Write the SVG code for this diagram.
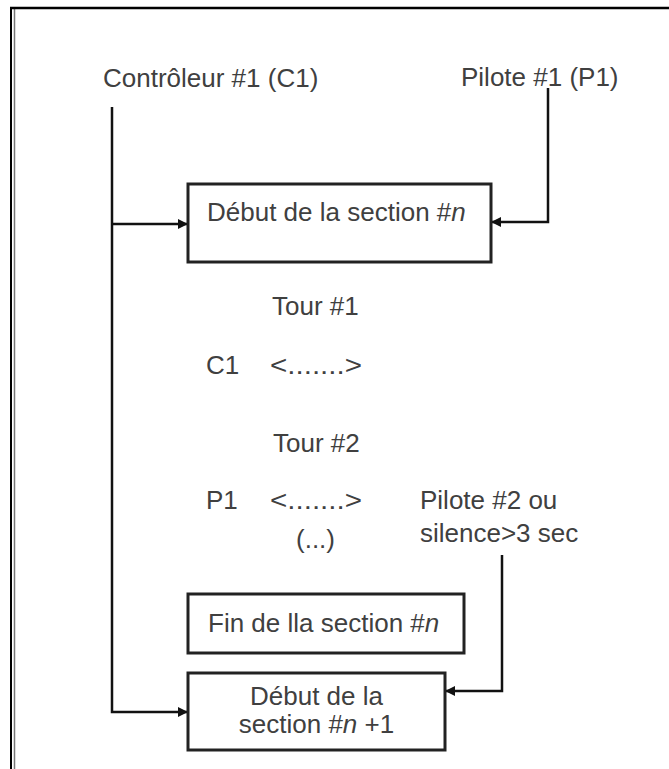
<svg xmlns="http://www.w3.org/2000/svg" width="669" height="769" viewBox="0 0 669 769">
<style>
  text { font-family: "Liberation Sans", Arial, sans-serif; font-size: 26px; fill: #404040; }
  .box { fill: #fff; stroke: #222; stroke-width: 3; }
  .wire { fill: none; stroke: #111; stroke-width: 2.5; }
</style>
<defs>
  <marker id="arr" markerUnits="userSpaceOnUse" markerWidth="12" markerHeight="10" refX="10" refY="5" orient="auto">
    <path d="M0,0 L10,5 L0,10 Z" fill="#111"/>
  </marker>
</defs>
<rect x="0" y="0" width="669" height="769" fill="#fff"/>
<g id="frame">
  <line x1="11" y1="7" x2="11" y2="769" stroke="#000" stroke-width="2"/>
  <line x1="14.5" y1="9" x2="14.5" y2="769" stroke="#777" stroke-width="1.5"/>
  <line x1="10" y1="8" x2="669" y2="8" stroke="#000" stroke-width="2.5"/>
</g>
<g id="connectors">
  <path class="wire" d="M112,107 V712 H188" marker-end="url(#arr)"/>
  <path class="wire" d="M112,224 H188" marker-end="url(#arr)"/>
  <path class="wire" d="M548,88 V222 H491" marker-end="url(#arr)"/>
  <path class="wire" d="M502,555 V691 H445" marker-end="url(#arr)"/>
</g>
<g id="controleur">
  <text x="103" y="87">Contrôleur #1 (C1)</text>
</g>
<g id="pilote1">
  <text x="461" y="86">Pilote #1 (P1)</text>
</g>
<g id="debut-n">
  <rect class="box" x="188" y="184" width="303" height="78"/>
  <text x="207" y="221">Début de la section #<tspan font-style="italic">n</tspan></text>
</g>
<g id="tours">
  <text x="272" y="315">Tour #1</text>
  <text x="206" y="374">C1</text>
  <text x="270" y="374" textLength="92" lengthAdjust="spacingAndGlyphs">&lt;.......&gt;</text>
  <text x="273" y="452">Tour #2</text>
  <text x="206" y="509">P1</text>
  <text x="270" y="509" textLength="92" lengthAdjust="spacingAndGlyphs">&lt;.......&gt;</text>
  <text x="296" y="548">(...)</text>
</g>
<g id="pilote2">
  <text x="420" y="509">Pilote #2 ou</text>
  <text x="420" y="542">silence&gt;3 sec</text>
</g>
<g id="fin-n">
  <rect class="box" x="188" y="594" width="276" height="59"/>
  <text x="208" y="632">Fin de lla section #<tspan font-style="italic">n</tspan></text>
</g>
<g id="debut-n1">
  <rect class="box" x="188" y="673" width="257" height="77"/>
  <text x="316.5" y="705" text-anchor="middle">Début de la</text>
  <text x="316.5" y="733" text-anchor="middle">section #<tspan font-style="italic">n</tspan> +1</text>
</g>
</svg>
